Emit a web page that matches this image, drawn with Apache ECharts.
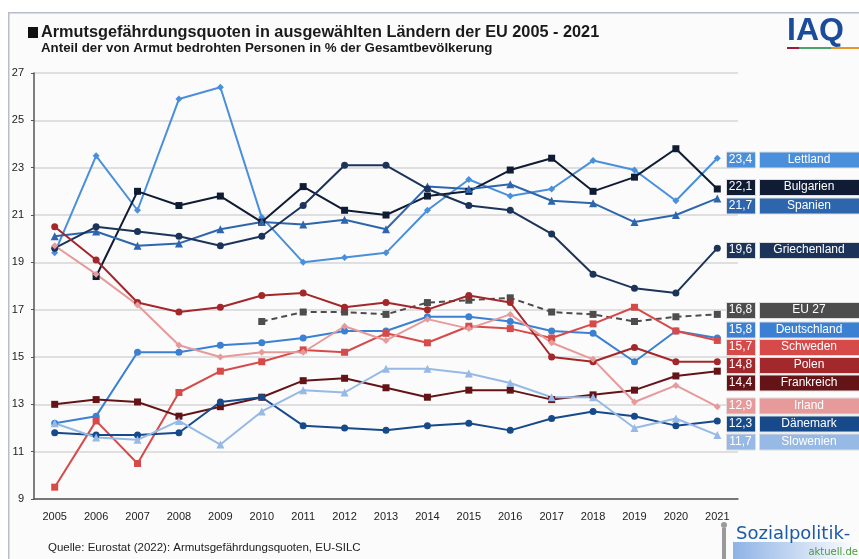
<!DOCTYPE html>
<html>
<head>
<meta charset="utf-8">
<script src="https://cdn.jsdelivr.net/npm/echarts@6/dist/echarts.min.js"></script>
<style>
  html, body { margin: 0; padding: 0; background: #ffffff; }
  #chart { width: 859px; height: 559px; }
</style>
</head>
<body>
<div id="chart"></div>
<script>
// data
var years = ['2005','2006','2007','2008','2009','2010','2011','2012','2013','2014','2015','2016','2017','2018','2019','2020','2021'];

var lettland     = [19.4, 23.5, 21.2, 25.9, 26.4, 20.9, 19.0, 19.2, 19.4, 21.2, 22.5, 21.8, 22.1, 23.3, 22.9, 21.6, 23.4];
var bulgarien    = [null, 18.4, 22.0, 21.4, 21.8, 20.7, 22.2, 21.2, 21.0, 21.8, 22.0, 22.9, 23.4, 22.0, 22.6, 23.8, 22.1];
var spanien      = [20.1, 20.3, 19.7, 19.8, 20.4, 20.7, 20.6, 20.8, 20.4, 22.2, 22.1, 22.3, 21.6, 21.5, 20.7, 21.0, 21.7];
var griechenland = [19.6, 20.5, 20.3, 20.1, 19.7, 20.1, 21.4, 23.1, 23.1, 22.1, 21.4, 21.2, 20.2, 18.5, 17.9, 17.7, 19.6];
var eu27         = [null, null, null, null, null, 16.5, 16.9, 16.9, 16.8, 17.3, 17.4, 17.5, 16.9, 16.8, 16.5, 16.7, 16.8];
var deutschland  = [12.2, 12.5, 15.2, 15.2, 15.5, 15.6, 15.8, 16.1, 16.1, 16.7, 16.7, 16.5, 16.1, 16.0, 14.8, 16.1, 15.8];
var schweden     = [9.5, 12.3, 10.5, 13.5, 14.4, 14.8, 15.3, 15.2, 16.0, 15.6, 16.3, 16.2, 15.8, 16.4, 17.1, 16.1, 15.7];
var polen        = [20.5, 19.1, 17.3, 16.9, 17.1, 17.6, 17.7, 17.1, 17.3, 17.0, 17.6, 17.3, 15.0, 14.8, 15.4, 14.8, 14.8];
var frankreich   = [13.0, 13.2, 13.1, 12.5, 12.9, 13.3, 14.0, 14.1, 13.7, 13.3, 13.6, 13.6, 13.2, 13.4, 13.6, 14.2, 14.4];
var irland       = [19.7, 18.5, 17.2, 15.5, 15.0, 15.2, 15.2, 16.3, 15.7, 16.6, 16.2, 16.8, 15.6, 14.9, 13.1, 13.8, 12.9];
var daenemark    = [11.8, 11.7, 11.7, 11.8, 13.1, 13.3, 12.1, 12.0, 11.9, 12.1, 12.2, 11.9, 12.4, 12.7, 12.5, 12.1, 12.3];
var slowenien    = [12.2, 11.6, 11.5, 12.3, 11.3, 12.7, 13.6, 13.5, 14.5, 14.5, 14.3, 13.9, 13.3, 13.3, 12.0, 12.4, 11.7];

var yTicks = [9, 11, 13, 15, 17, 19, 21, 23, 25, 27];

var countries = [
  { name: 'Lettland',     data: lettland,     color: '#4a8fdb', symbol: 'diamond',  boxY: 159.5 },
  { name: 'Bulgarien',    data: bulgarien,    color: '#0f1c33', symbol: 'rect',     boxY: 187 },
  { name: 'Spanien',      data: spanien,      color: '#2e66ad', symbol: 'triangle', boxY: 205.5 },
  { name: 'Griechenland', data: griechenland, color: '#1c3459', symbol: 'circle',   boxY: 250 },
  { name: 'EU 27',        data: eu27,         color: '#4d4d4d', symbol: 'rect',     boxY: 310, dashed: true },
  { name: 'Deutschland',  data: deutschland,  color: '#3b80d2', symbol: 'circle',   boxY: 329.5 },
  { name: 'Schweden',     data: schweden,     color: '#d64a4a', symbol: 'rect',     boxY: 347 },
  { name: 'Polen',        data: polen,        color: '#a3282b', symbol: 'circle',   boxY: 365 },
  { name: 'Frankreich',   data: frankreich,   color: '#641417', symbol: 'rect',     boxY: 382.5 },
  { name: 'Irland',       data: irland,       color: '#e69a9a', symbol: 'diamond',  boxY: 405.5 },
  { name: 'Dänemark',     data: daenemark,    color: '#174a8b', symbol: 'circle',   boxY: 423.5 },
  { name: 'Slowenien',    data: slowenien,    color: '#96b9e5', symbol: 'triangle', boxY: 441.5 }
];

var chart = echarts.init(document.getElementById('chart'), null, { renderer: 'canvas' });

var series = countries.map(function (c) {
  return {
    name: c.name,
    type: 'line',
    data: c.data,
    symbol: c.symbol,
    symbolSize: c.symbol === 'triangle' ? 8 : 7,
    showAllSymbol: true,
    connectNulls: false,
    lineStyle: { color: c.color, width: 2, type: c.dashed ? [6, 4] : 'solid' },
    itemStyle: { color: c.color },
    animation: false
  };
});

// label boxes on the right
var graphics = [];
countries.forEach(function (c) {
  var last = c.data[c.data.length - 1];
  var y = c.boxY - 8;
  graphics.push({
    type: 'rect', left: 726, top: y, z: 100, shape: { width: 29, height: 16 },
    style: { fill: c.color, stroke: '#dddddd', lineWidth: 1 }
  });
  graphics.push({
    type: 'text', x: 740.5, y: c.boxY, z: 101,
    style: { text: last.toFixed(1).replace('.', ','), fill: '#ffffff', font: '12px "Liberation Sans", Arial, sans-serif', align: 'center', verticalAlign: 'middle' }
  });
  graphics.push({
    type: 'rect', left: 759, top: y, z: 100, shape: { width: 100, height: 16 },
    style: { fill: c.color, stroke: '#dddddd', lineWidth: 1 }
  });
  graphics.push({
    type: 'text', x: 809, y: c.boxY, z: 101,
    style: { text: c.name, fill: '#ffffff', font: '12px "Liberation Sans", Arial, sans-serif', align: 'center', verticalAlign: 'middle' }
  });
});

// frame, titles, source and logos
graphics.push(
  { type: 'rect', left: 8, top: 12, z: -1, shape: { width: 900, height: 600 }, style: { fill: '#fbfbfb', stroke: '#b9bccb', lineWidth: 1.5 } },
  { type: 'rect', left: 28, top: 27, shape: { width: 10, height: 11 }, style: { fill: '#111111' } },
  { type: 'text', x: 41, y: 33, style: { text: 'Armutsgefährdungsquoten in ausgewählten Ländern der EU 2005 - 2021', font: 'bold 16.3px "Liberation Sans", Arial, sans-serif', fill: '#1a1a1a', verticalAlign: 'middle' } },
  { type: 'text', x: 41, y: 48, style: { text: 'Anteil der von Armut bedrohten Personen in % der Gesamtbevölkerung', font: 'bold 13.3px "Liberation Sans", Arial, sans-serif', fill: '#1a1a1a', verticalAlign: 'middle' } },
  { type: 'text', x: 48, y: 548, style: { text: 'Quelle: Eurostat (2022): Armutsgefährdungsquoten, EU-SILC', font: '11.5px "Liberation Sans", Arial, sans-serif', fill: '#222222', verticalAlign: 'middle' } },
  { type: 'text', x: 787, y: 31, style: { text: 'IAQ', font: 'bold 32px "Liberation Sans", Arial, sans-serif', fill: '#1b4c9c', verticalAlign: 'middle' } },
  { type: 'rect', left: 787, top: 47, shape: { width: 12, height: 2 }, style: { fill: '#9b1b3a' } },
  { type: 'rect', left: 799, top: 47, shape: { width: 32, height: 2 }, style: { fill: '#4aa36a' } },
  { type: 'rect', left: 831, top: 47, shape: { width: 28, height: 2 }, style: { fill: '#e8962a' } },
  { type: 'rect', left: 733, top: 542, shape: { width: 126, height: 17 },
    style: { fill: new echarts.graphic.LinearGradient(0, 0, 1, 0, [{ offset: 0, color: '#8fb3e6' }, { offset: 1, color: '#ffffff' }]) } },
  { type: 'text', x: 736, y: 534, style: { text: 'Sozialpolitik-', font: '18px "DejaVu Sans", sans-serif', fill: '#1c5aa6', verticalAlign: 'middle' } },
  { type: 'text', x: 858, y: 552, style: { text: 'aktuell.de', font: '10px "DejaVu Sans", sans-serif', fill: '#4a9a3c', align: 'right', verticalAlign: 'middle' } },
  { type: 'rect', left: 722, top: 528, shape: { width: 4, height: 31 }, style: { fill: '#9a9a9a' } },
  { type: 'circle', shape: { cx: 724, cy: 525, r: 3 }, style: { fill: '#9a9a9a' } }
);

chart.setOption({
  backgroundColor: '#ffffff',
  animation: false,
  grid: { left: 34, right: 121, top: 73, bottom: 60 },
  xAxis: {
    type: 'category',
    data: years,
    boundaryGap: true,
    axisLine: { lineStyle: { color: '#555555', width: 1.5 } },
    axisTick: { alignWithLabel: true, length: 3, lineStyle: { color: '#555555' } },
    axisLabel: { color: '#222222', fontSize: 11, margin: 12, fontFamily: '"Liberation Sans", Arial, sans-serif' }
  },
  yAxis: {
    type: 'value',
    min: yTicks[0],
    max: yTicks[yTicks.length - 1],
    interval: 2,
    axisLine: { show: true, lineStyle: { color: '#555555', width: 1.5 } },
    axisTick: { show: true, length: 3, lineStyle: { color: '#555555' } },
    axisLabel: { color: '#222222', fontSize: 11, margin: 10, fontFamily: '"Liberation Sans", Arial, sans-serif' },
    splitLine: { lineStyle: { color: '#d6d6d6', width: 1.5 } }
  },
  series: series,
  graphic: graphics
});
</script>
</body>
</html>
